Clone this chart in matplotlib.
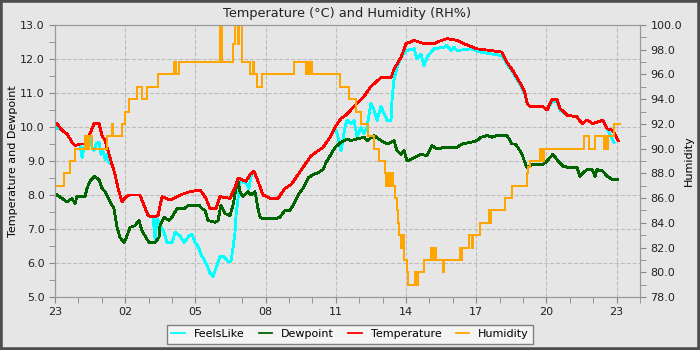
import matplotlib
matplotlib.use('Agg')
from matplotlib import pyplot as plt
from matplotlib.patches import Rectangle
from matplotlib.ticker import MultipleLocator

# hours since 23:00, readings over one day
temp_h = [0.085, 0.299, 0.513, 0.726, 0.855, 1.068, 1.282, 1.496, 1.667, 1.880,
          2.009, 2.137, 2.350, 2.564, 2.692, 2.863, 3.034, 3.205, 3.632, 3.803,
          3.974, 4.188, 4.402, 4.573, 4.915, 5.342, 5.769, 6.197, 6.453, 6.624,
          6.880, 7.051, 7.479, 7.735, 7.821, 8.162, 8.333, 8.504, 8.675, 8.889,
          9.188, 9.530, 9.829, 10.085, 10.385, 10.684, 10.940, 11.239, 11.453, 11.752,
          11.966, 12.222, 12.436, 12.906, 13.205, 13.504, 13.932, 14.359, 14.487, 14.786,
          15.0, 15.342, 15.769, 16.197, 16.325, 16.752, 17.179, 17.479, 18.034, 18.632,
          19.103, 19.316, 19.573, 19.872, 20.085, 20.171, 20.299, 20.855, 21.026, 21.239,
          21.453, 21.581, 21.880, 22.308, 22.521, 22.735, 22.991, 23.419, 23.590, 23.846,
          24.060]
temperature = [10.1, 9.9, 9.8, 9.55, 9.45, 9.5, 9.5, 9.8, 10.1, 10.1,
               9.75, 9.6, 9.1, 8.6, 8.2, 7.8, 7.95, 8.0, 8.0, 7.7,
               7.4, 7.35, 7.4, 7.95, 7.85, 8.0, 8.1, 8.15, 7.9, 7.6,
               7.6, 7.95, 7.9, 8.3, 8.5, 8.4, 8.6, 8.7, 8.4, 8.0,
               7.9, 7.9, 8.2, 8.3, 8.6, 8.9, 9.15, 9.3, 9.4, 9.7,
               10.0, 10.25, 10.35, 10.7, 10.9, 11.2, 11.45, 11.45, 11.7, 12.05,
               12.45, 12.55, 12.45, 12.45, 12.5, 12.6, 12.55, 12.45, 12.3, 12.25,
               12.2, 11.9, 11.65, 11.3, 11.0, 10.7, 10.6, 10.6, 10.5, 10.8,
               10.8, 10.55, 10.35, 10.3, 10.1, 10.2, 10.1, 10.2, 9.95, 9.9,
               9.6]

feels_h = [0.085, 0.299, 0.513, 0.726, 0.855, 1.068, 1.154, 1.239, 1.368, 1.496,
           1.581, 1.667, 1.752, 1.880, 1.966, 2.051, 2.137, 2.222, 2.308, 2.436,
           2.564, 2.692, 2.863, 3.034, 3.205, 3.632, 3.803, 3.974, 4.188, 4.274,
           4.359, 4.444, 4.658, 4.786, 5.0, 5.128, 5.342, 5.513, 5.726, 5.855,
           5.983, 6.111, 6.239, 6.453, 6.624, 6.752, 6.880, 7.051, 7.179, 7.393,
           7.521, 7.607, 7.692, 7.735, 7.821, 7.906, 8.162, 8.291, 8.376, 8.504,
           8.675, 8.889, 9.188, 9.530, 9.829, 10.085, 10.385, 10.684, 10.940, 11.239,
           11.453, 11.752, 11.966, 12.094, 12.222, 12.393, 12.479, 12.650, 12.778, 12.906,
           13.077, 13.205, 13.333, 13.504, 13.632, 13.761, 13.932, 14.060, 14.188, 14.359,
           14.402, 14.487, 14.615, 14.786, 15.0, 15.342, 15.470, 15.641, 15.769, 15.897,
           16.068, 16.197, 16.624, 16.752, 16.923, 17.051, 17.179, 17.778, 18.205, 18.632,
           19.103, 19.316, 19.573, 19.872, 20.085, 20.171, 20.299, 20.855, 21.026, 21.239,
           21.453, 21.581, 21.880, 22.308, 22.521, 22.735, 22.991, 23.419, 23.590, 23.803,
           23.889]
feels_like = [9.97, 9.9, 9.8, 9.55, 9.45, 9.5, 9.1, 9.4, 9.4, 9.7,
              9.4, 9.3, 9.5, 9.55, 9.2, 9.3, 9.05, 9.2, 8.95, 8.9,
              8.6, 8.2, 7.8, 7.95, 8.0, 8.0, 7.7, 7.4, 7.35, 6.7,
              7.3, 7.2, 6.9, 6.6, 6.6, 6.9, 6.8, 6.6, 6.8, 6.85,
              6.6, 6.5, 6.25, 6.0, 5.7, 5.6, 5.85, 6.2, 6.2, 6.05,
              6.05, 6.45, 6.9, 7.4, 7.9, 8.4, 8.35, 8.2, 8.55, 8.7,
              8.4, 8.0, 7.9, 7.9, 8.2, 8.3, 8.6, 8.9, 9.15, 9.3,
              9.4, 9.7, 10.0, 9.7, 9.3, 10.0, 10.2, 10.1, 10.2, 9.7,
              10.0, 9.8, 10.0, 10.7, 10.5, 10.2, 10.6, 10.4, 10.2, 10.2,
              10.8, 11.4, 11.75, 12.05, 12.25, 12.3, 12.0, 12.15, 11.8, 12.05,
              12.2, 12.3, 12.35, 12.4, 12.25, 12.35, 12.25, 12.3, 12.2, 12.15,
              12.1, 11.85, 11.6, 11.25, 10.95, 10.7, 10.6, 10.6, 10.5, 10.75,
              10.75, 10.5, 10.35, 10.3, 10.1, 10.2, 10.1, 10.2, 9.95, 9.65,
              9.55]

dew_h = [0.085, 0.299, 0.513, 0.726, 0.855, 0.940, 1.282, 1.368, 1.496, 1.667,
         1.880, 2.009, 2.137, 2.350, 2.521, 2.650, 2.778, 2.949, 3.077, 3.205,
         3.419, 3.590, 3.718, 3.846, 4.017, 4.274, 4.444, 4.487, 4.658, 4.872,
         5.0, 5.214, 5.513, 5.726, 6.154, 6.282, 6.410, 6.538, 6.838, 6.966,
         7.094, 7.265, 7.479, 7.607, 7.735, 7.821, 7.906, 8.034, 8.248, 8.376,
         8.547, 8.675, 8.761, 8.889, 9.402, 9.615, 9.829, 10.043, 10.171, 10.385,
         10.598, 10.812, 11.026, 11.239, 11.453, 11.581, 11.795, 11.966, 12.222, 12.479,
         12.650, 12.906, 13.205, 13.333, 13.632, 13.932, 14.188, 14.487, 14.615, 14.786,
         14.915, 15.043, 15.342, 15.641, 15.897, 16.111, 16.325, 16.624, 17.179, 17.393,
         17.778, 18.034, 18.205, 18.462, 18.675, 18.889, 19.316, 19.530, 19.658, 19.786,
         19.957, 20.085, 20.171, 20.385, 20.855, 21.026, 21.154, 21.282, 21.496, 21.709,
         22.009, 22.308, 22.436, 22.564, 22.735, 22.949, 23.077, 23.162, 23.419, 23.590,
         23.846, 24.060]
dewpoint = [8.0, 7.9, 7.8, 7.9, 7.75, 7.95, 7.95, 8.2, 8.4, 8.55,
            8.45, 8.2, 8.1, 7.8, 7.6, 7.05, 6.75, 6.6, 6.8, 7.05,
            7.1, 7.25, 6.95, 6.8, 6.6, 6.6, 6.75, 7.1, 7.35, 7.25,
            7.35, 7.6, 7.6, 7.7, 7.7, 7.6, 7.55, 7.25, 7.2, 7.25,
            7.7, 7.45, 7.4, 7.7, 8.2, 8.4, 8.1, 7.95, 8.1, 8.0,
            8.1, 7.6, 7.35, 7.3, 7.3, 7.35, 7.55, 7.55, 7.7, 8.0,
            8.2, 8.5, 8.6, 8.65, 8.75, 8.95, 9.2, 9.4, 9.55, 9.65,
            9.6, 9.65, 9.7, 9.6, 9.75, 9.6, 9.5, 9.6, 9.3, 9.2,
            9.3, 9.0, 9.1, 9.2, 9.15, 9.45, 9.35, 9.4, 9.4, 9.5,
            9.55, 9.6, 9.7, 9.75, 9.7, 9.75, 9.75, 9.5, 9.5, 9.4,
            9.2, 8.95, 8.8, 8.9, 8.9, 9.0, 9.1, 9.2, 9.0, 8.85,
            8.8, 8.8, 8.55, 8.65, 8.75, 8.75, 8.55, 8.75, 8.7, 8.55,
            8.45, 8.45]

# humidity is logged as steps: each value holds until the next time
hum_h = [0.085, 0.385, 0.641, 0.855, 1.282, 1.368, 1.453, 1.581, 2.137, 2.222,
         2.436, 2.479, 2.863, 2.991, 3.162, 3.504, 3.718, 3.932, 4.402, 5.085,
         5.171, 5.299, 7.051, 7.137, 7.607, 7.692, 7.821, 7.863, 7.991, 8.333,
         8.462, 8.504, 8.632, 8.846, 10.214, 10.726, 10.812, 10.897, 10.940, 10.983,
         12.179, 12.564, 12.863, 13.077, 13.376, 13.632, 13.846, 14.103, 14.145, 14.231,
         14.316, 14.402, 14.444, 14.530, 14.615, 14.658, 14.701, 14.786, 14.829, 14.915,
         15.043, 15.085, 15.385, 15.470, 15.513, 15.769, 16.068, 16.154, 16.197, 16.282,
         16.581, 16.624, 17.308, 17.350, 17.393, 17.692, 17.821, 17.863, 18.162, 18.547,
         18.590, 18.632, 19.231, 19.530, 20.171, 20.214, 20.299, 20.726, 20.812, 20.897,
         22.607, 22.821, 23.077, 23.462, 23.547, 23.590, 23.632, 23.889, 24.145]
humidity = [87, 88, 89, 90, 91, 90, 91, 90, 90, 91,
            92, 91, 92, 93, 94, 95, 94, 95, 96, 97,
            96, 97, 100, 97, 98.5, 100, 98.5, 100, 97, 96,
            97, 96, 95, 96, 97, 96, 97, 96, 97, 96,
            95, 94, 93, 92, 91, 90, 89, 88, 87, 88,
            87, 88, 87, 86, 85, 84, 83, 82, 83, 81,
            80, 79, 80, 79, 80, 81, 82, 81, 82, 81,
            80, 81, 82, 81, 82, 83, 82, 83, 84, 85,
            84, 85, 86, 87, 88, 88.5, 89, 90, 89, 90,
            91, 90, 91, 90, 91, 90, 91, 92, 92]

tick_pos = [0, 3, 6, 9, 12, 15, 18, 21, 24]
tick_labels = ['23', '02', '05', '08', '11', '14', '17', '20', '23']

bg = '#e6e6e6'
lw = 1.3
fig = plt.figure(figsize=(7, 3.5), dpi=100, facecolor=bg)
ax = fig.add_axes([0.0786, 0.1514, 0.8357, 0.7771], facecolor=bg)
ax2 = ax.twinx()

# crisp, non-smoothed lines
l1, = ax.plot(feels_h, feels_like, color='#00ffff', lw=lw, label='FeelsLike',
              antialiased=False)
l2, = ax.plot(dew_h, dewpoint, color='#006400', lw=lw, label='Dewpoint',
              antialiased=False)
l3, = ax.plot(temp_h, temperature, color='#ff0000', lw=lw, label='Temperature',
              antialiased=False)
l4, = ax2.plot(hum_h, humidity, color='#ffa500', lw=lw, drawstyle='steps-post',
               label='Humidity', antialiased=False)

ax.set_xlim(0, 25)
ax.set_ylim(5, 13)
ax2.set_ylim(78, 100)
ax.set_xticks(tick_pos)
ax.set_xticklabels(tick_labels)
ax.xaxis.set_minor_locator(MultipleLocator(1))
ax.yaxis.set_major_locator(MultipleLocator(1))
ax.yaxis.set_minor_locator(MultipleLocator(0.5))
ax.yaxis.set_major_formatter('{x:.1f}')
ax2.yaxis.set_major_locator(MultipleLocator(2))
ax2.yaxis.set_minor_locator(MultipleLocator(1))
ax2.yaxis.set_major_formatter('{x:.1f}')

ax.grid(True, which='major', color='#bdbdbd', linestyle='--', linewidth=0.8)
for a in (ax, ax2):
    a.tick_params(which='both', length=4, color='#888888', labelsize=8,
                  labelcolor='#222222')
    for s in a.spines.values():
        s.set_color('#999999')

ax.set_ylabel('Temperature and Dewpoint', fontsize=8, labelpad=1)
ax2.set_ylabel('Humidity', fontsize=8, labelpad=1)
ax.set_title('Temperature (°C) and Humidity (RH%)', fontsize=9.3, pad=6,
             color='#222222')

fig.legend(handles=[l1, l2, l3, l4], loc='upper center', ncol=4,
           bbox_to_anchor=(0.5, 0.072), bbox_transform=fig.transFigure,
           fontsize=8, fancybox=False, framealpha=1, facecolor='#f4f4f4',
           edgecolor='#808080', handlelength=1.2, columnspacing=1.3,
           borderaxespad=0, borderpad=0.4)

fig.patches.append(Rectangle((0, 0), 1, 1, transform=fig.transFigure, fill=False,
                             lw=4, edgecolor='#4d4d4d', zorder=10))

fig.savefig('out.png', dpi=100, facecolor=bg)
